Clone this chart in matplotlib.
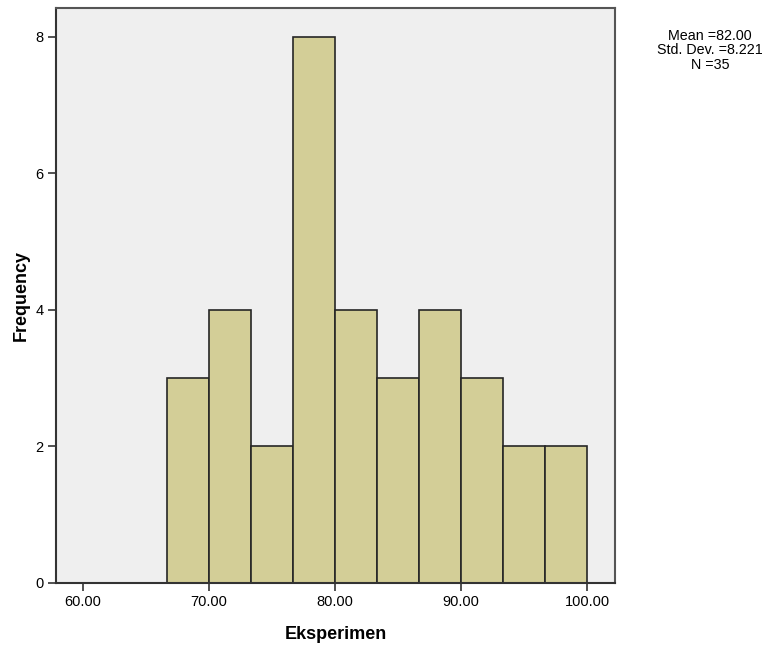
import matplotlib
matplotlib.use('Agg')
import matplotlib.pyplot as plt
import numpy as np

plt.rcParams['font.family'] = ['Liberation Sans', 'DejaVu Sans']

# 数据
bin_edges = np.linspace(66.6667, 100.0, 11)
counts = [3, 4, 2, 8, 4, 3, 4, 3, 2, 2]
xticks = [60, 70, 80, 90, 100]
yticks = [0, 2, 4, 6, 8]
stats_text = 'Mean =82.00\nStd. Dev. =8.221\nN =35'

fig = plt.figure(figsize=(7.69, 6.53), dpi=100)
ax = fig.add_axes([0.0728, 0.1072, 0.727, 0.8805])
ax.set_facecolor('#EFEFEF')

ax.bar(bin_edges[:-1], counts, width=np.diff(bin_edges), align='edge',
       color='#D3CE97', edgecolor='#262626', linewidth=1.2, zorder=2)

ax.set_xlim(57.86, 102.2)
ax.set_ylim(0, 8.42)
ax.set_xticks(xticks)
ax.set_xticklabels(['%.2f' % v for v in xticks], fontsize=10.5)
ax.set_yticks(yticks)
ax.set_yticklabels([str(v) for v in yticks], fontsize=10.5)
ax.tick_params(axis='both', direction='out', length=6, width=1.2, color='#333333', pad=3)

for s in ['left', 'bottom']:
    ax.spines[s].set_color('#333333')
    ax.spines[s].set_linewidth(1.5)
for s in ['top', 'right']:
    ax.spines[s].set_color('#555555')
    ax.spines[s].set_linewidth(1.5)

ax.set_xlabel('Eksperimen', fontsize=13, fontweight='bold', labelpad=12)
ax.set_ylabel('Frequency', fontsize=13, fontweight='bold', labelpad=4)

fig.text(0.923, 0.923, stats_text, ha='center', va='center', fontsize=10.3, linespacing=1.05)

plt.savefig('out.png', dpi=100)
